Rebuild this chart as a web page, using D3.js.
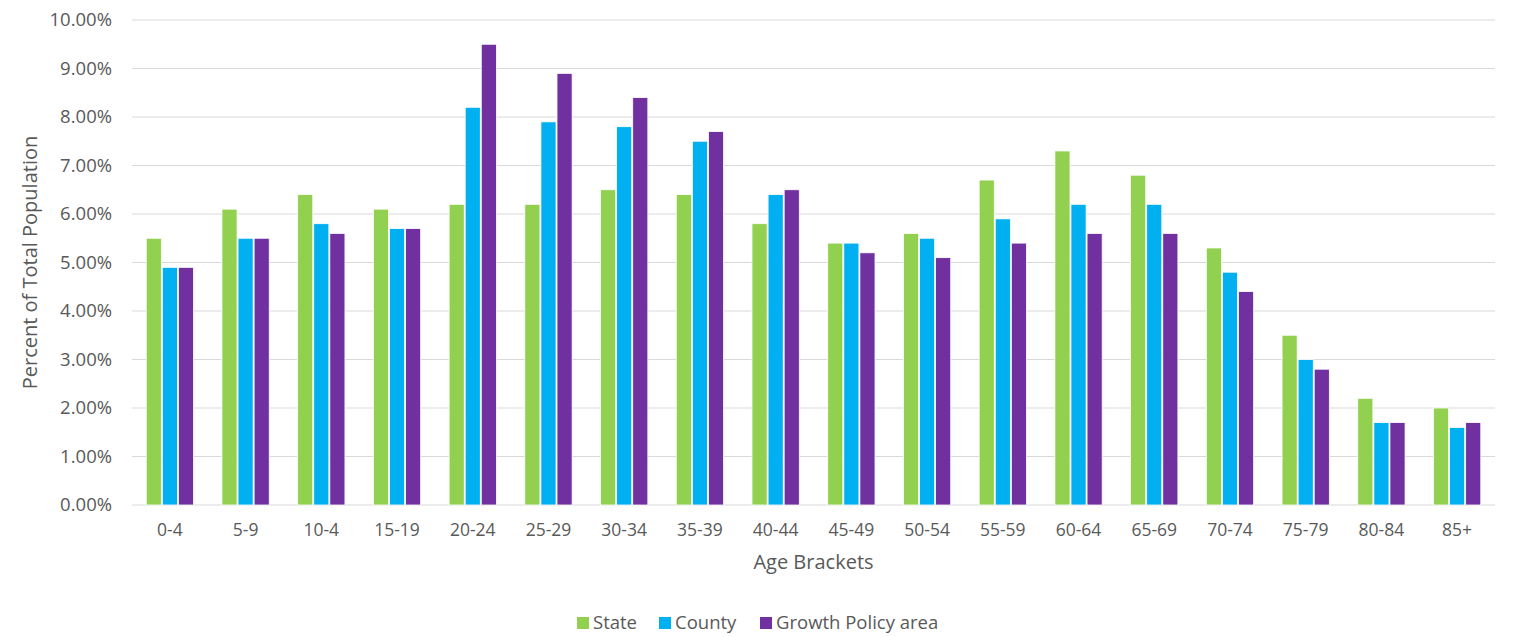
<!DOCTYPE html>
<html><head><meta charset="utf-8">
<script src="https://cdn.jsdelivr.net/npm/d3@7"></script>
<style>body{margin:0;background:#fff}svg{display:block}text{font-family:"Open Sans","Noto Sans",sans-serif;fill:#595959}</style>
</head><body><svg id="c" width="1516" height="637"></svg>
<script>
const categories = ["0-4","5-9","10-4","15-19","20-24","25-29","30-34","35-39","40-44","45-49","50-54","55-59","60-64","65-69","70-74","75-79","80-84","85+"];
const seriesNames = ["State","County","Growth Policy area"];
const stateVals  = [5.5,6.1,6.4,6.1,6.2,6.2,6.5,6.4,5.8,5.4,5.6,6.7,7.3,6.8,5.3,3.5,2.2,2.0];
const countyVals = [4.9,5.5,5.8,5.7,8.2,7.9,7.8,7.5,6.4,5.4,5.5,5.9,6.2,6.2,4.8,3.0,1.7,1.6];
const growthVals = [4.9,5.5,5.6,5.7,9.5,8.9,8.4,7.7,6.5,5.2,5.1,5.4,5.6,5.6,4.4,2.8,1.7,1.7];
const yTicks = [0,1,2,3,4,5,6,7,8,9,10];
const colors = ["#92D050","#00B0F0","#7030A0"];

const series = [stateVals, countyVals, growthVals];
const svg = d3.select("#c");
const m = {l:132, r:1495, t:20, b:505};
const x = d3.scaleBand().domain(categories).range([m.l, m.r]).paddingInner(0.35).paddingOuter(0.175);
const xs = d3.scaleBand().domain(seriesNames).range([0, x.bandwidth()]).padding(0.06);
const y = d3.scaleLinear().domain([0,10]).range([m.b, m.t]);

svg.append("g").selectAll("line").data(yTicks).join("line")
  .attr("x1", m.l).attr("x2", m.r).attr("y1", d=>y(d)).attr("y2", d=>y(d))
  .attr("stroke", "#d9d9d9").attr("stroke-width", 1);
svg.append("g").selectAll("text").data(yTicks).join("text")
  .attr("x", 112).attr("y", d=>y(d)).attr("dy","0.35em").attr("text-anchor","end")
  .attr("font-size", 18.5).text(d=>d3.format(".2f")(d)+"%");

const g = svg.append("g");
seriesNames.forEach((s,i)=>{
  g.append("g").selectAll("rect").data(series[i]).join("rect")
    .attr("x", (d,j)=>x(categories[j]) + xs(s))
    .attr("y", d=>y(d)).attr("width", xs.bandwidth()).attr("height", d=>y(0)-y(d))
    .attr("fill", colors[i]).attr("stroke","#fff").attr("stroke-width",0.8);
});

svg.append("g").selectAll("text").data(categories).join("text")
  .attr("x", d=>x(d)+x.bandwidth()/2).attr("y", 536).attr("text-anchor","middle")
  .attr("font-size", 17.5).text(d=>d);

svg.append("text").attr("x",(m.l+m.r)/2).attr("y",569).attr("text-anchor","middle")
  .attr("font-size",20).text("Age Brackets");
svg.append("text").attr("transform",`translate(37,${(m.t+m.b)/2}) rotate(-90)`)
  .attr("text-anchor","middle").attr("font-size",20).text("Percent of Total Population");

const leg = svg.append("g");
const legX = [577, 659, 760];
seriesNames.forEach((s,i)=>{
  leg.append("rect").attr("x",legX[i]).attr("y",617).attr("width",12).attr("height",12).attr("fill",colors[i]);
  leg.append("text").attr("x",legX[i]+16).attr("y",623).attr("dy","0.35em").attr("font-size",18.5).text(s);
});
</script></body></html>
